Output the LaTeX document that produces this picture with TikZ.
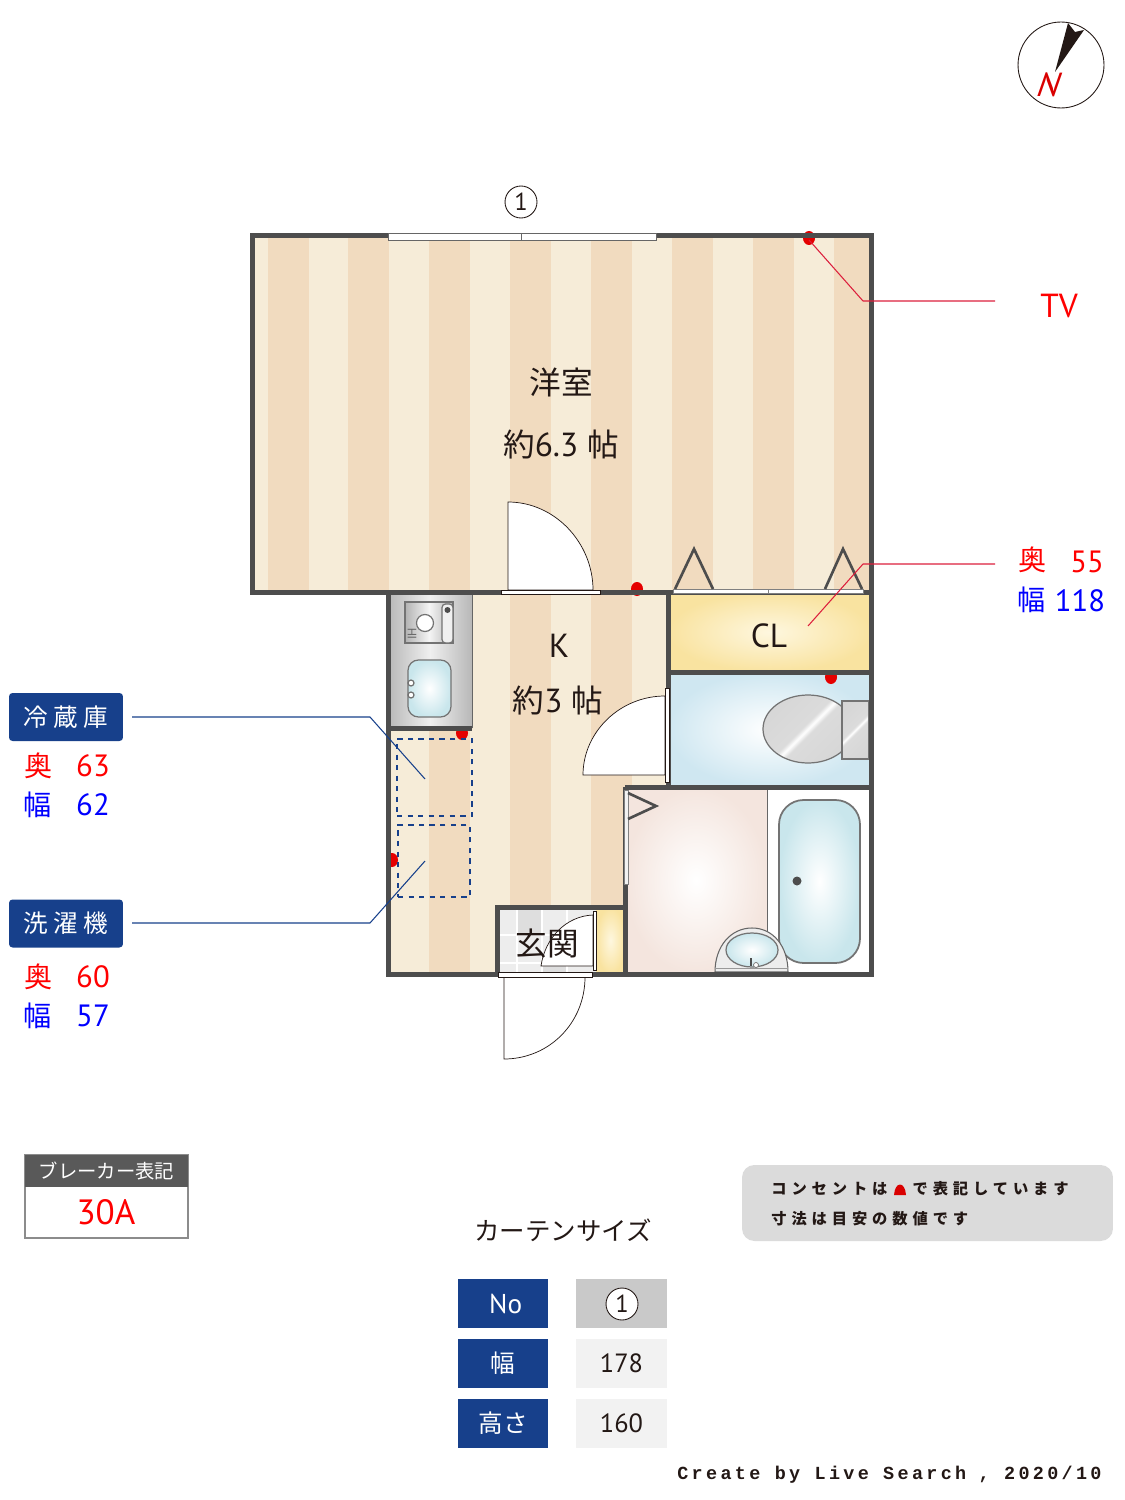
\documentclass[tikz,border=0pt]{standalone}
\usepackage{fontspec}
\setmainfont{PT Sans}
\newfontfamily\jp{Noto Sans CJK JP}
\newfontfamily\jpwide[LetterSpace=32]{Noto Sans CJK JP}
\newfontfamily\credit[LetterSpace=18]{Liberation Mono}
\usetikzlibrary{shapes.geometric}
\definecolor{wallgray}{HTML}{4D4D4D}
\definecolor{floorlight}{HTML}{F6ECD8}
\definecolor{floordark}{HTML}{F1DBBF}
\definecolor{navy}{HTML}{17408B}
\definecolor{inkblack}{HTML}{231815}
\definecolor{leaderred}{HTML}{DC1E3C}
\definecolor{closetgold}{HTML}{F9E3A0}
\definecolor{closetpale}{HTML}{FEF7DF}
\definecolor{skyblue}{HTML}{CFE7F1}
\definecolor{tubblue}{HTML}{C9E6EC}
\definecolor{bathpink}{HTML}{F4E5DE}
\pgfdeclarehorizontalshading{chrome}{100bp}{color(0bp)=(black!18);color(47bp)=(black!14);color(50bp)=(white);color(53bp)=(black!14);color(100bp)=(black!18)}
\tikzset{
    wall/.style={draw=wallgray, line width=0.1cm},
    doorleaf/.style={draw=inkblack, fill=white, line width=0.4pt},
    sill/.style={draw=inkblack, fill=white, line width=0.4pt},
    fold/.style={draw=wallgray, line width=1.5pt},
    socket/.style={fill=red!90!black},
    txt/.style={inner sep=0pt, text=inkblack},
    roomname/.style={txt, font=\fontsize{19}{21}\selectfont},
    redtxt/.style={inner sep=0pt, text=red, font=\fontsize{17.5}{20}\selectfont},
    bluetxt/.style={inner sep=0pt, text=blue, font=\fontsize{17.5}{20}\selectfont},
    tag/.style={rectangle, rounded corners=2pt, fill=navy, text=white, minimum width=2.28cm, minimum height=0.96cm, inner sep=0pt, font=\jp\fontsize{14}{16}\selectfont},
    headcell/.style={rectangle, fill=navy, text=white, minimum width=1.8cm, minimum height=0.98cm, inner sep=0pt, font=\fontsize{15.5}{18}\selectfont},
    valcell/.style={rectangle, fill=black!5, text=inkblack, minimum width=1.82cm, minimum height=0.98cm, inner sep=0pt, font=\fontsize{15}{18}\selectfont},
    numcircle/.style={circle, draw=inkblack, fill=white, minimum size=0.64cm, inner sep=0pt, line width=0.5pt, text=inkblack, font=\fontsize{14}{16}\selectfont},
    leaderblue/.style={draw=navy, line width=0.6pt},
    leaderpink/.style={draw=leaderred, line width=0.6pt},
    dashbox/.style={rectangle, draw=navy, dashed, line width=0.9pt, inner sep=0pt},
    metal/.style={draw=black!55, line width=0.7pt},
}
\begin{document}
\begin{tikzpicture}[x=0.02cm,y=-0.02cm]
\useasboundingbox (0,0) rectangle (1125,1500);

% flooring
\begin{scope}
\clip (252,236) -- (871,236) -- (871,592) -- (668,592) -- (668,787) -- (625,787) -- (625,974) -- (388,974) -- (388,592) -- (252,592) -- cycle;
\fill[floorlight] (252,236) rectangle (871,974);
\foreach \x in {268,348,429,510,591,672,753,834}
    \fill[floordark] (\x,236) rectangle ++(40.5,738);
\end{scope}

% rooms
\shade[inner color=closetpale, outer color=closetgold] (668,592) rectangle (871,672);
\shade[inner color=white, outer color=skyblue] (668,672) rectangle (871,787);
\shade[inner color=white, outer color=bathpink] (625,787) rectangle (767,974);
\fill[white] (767,787) rectangle (871,974);
\draw[black!60, line width=0.5pt] (767,787) -- (767,974);

% kitchen counter
\shade[left color=black!28, right color=black!28, middle color=black!6] (388,592) rectangle (472,728);
\draw[black!60, line width=0.5pt] (472,592) -- (472,728);
\shade[metal, left color=black!30, right color=black!30, middle color=black!4] (405,602) rectangle (453,643);
\draw[metal, fill=black!6, rounded corners=2pt] (442,604) rectangle (453,643);
\fill[wallgray] (447.5,610) circle (3);
\draw[metal, fill=white] (425,623) circle (8.5);
\node[txt, rotate=90, text=black!60, font=\fontsize{7}{8}\selectfont] (stovelabel) at (412,634) {IH};
\shade[metal, rounded corners=6pt, inner color=white, outer color=tubblue] (408,660) rectangle (451,717);
\draw[metal, fill=white] (411,683) circle (3) (411,695) circle (3);

% sockets
\foreach \p/\q in {809/238,637/589,831/677,462/733,392/860}
    \fill[socket] (\p,\q) ellipse (6 and 7);

% doors
\draw[doorleaf] (508,590) -- (508,502) .. controls (555,502) and (593,543) .. (593,590) -- cycle;
\draw[doorleaf] (665,775) -- (583,775) .. controls (583,732) and (620,696) .. (665,696) -- cycle;
\fill[white] (504,977) -- (504,1059) .. controls (549,1059) and (585,1023) .. (585,977) -- cycle;
\draw[draw=inkblack, line width=0.4pt] (504,977) -- (504,1059) .. controls (549,1059) and (585,1023) .. (585,977);

% entrance floor
\fill[black!7] (497,907) rectangle (596,974);
\fill[black!13] (517,910) rectangle (542,935) (567,963) rectangle (542,974);
\foreach \x in {517,542,567}
    \draw[white, line width=0.8pt] (\x,907) -- (\x,974);
\foreach \y in {935,963}
    \draw[white, line width=0.8pt] (497,\y) -- (596,\y);
\draw[doorleaf] (593,966) -- (541,966) .. controls (545,938) and (566,916) .. (593,915) -- cycle;
\shade[inner color=closetpale, outer color=closetgold] (596,907) rectangle (625,974);

% fixtures
\draw[metal, line width=1pt, rounded corners=14pt, inner color=white, outer color=tubblue, shade] (779,800) rectangle (860,963);
\fill[wallgray] (797,881) circle (4.5);
\draw[black!60, fill=black!7, line width=0.6pt] (715,972) .. controls (715,946) and (731,928) .. (752,928) .. controls (773,928) and (788,946) .. (788,972) -- cycle;
\draw[black!40, line width=0.5pt] (715,968) -- (788,968);
\shade[metal, inner color=white, outer color=tubblue] (752,950) ellipse (26 and 17);
\draw[wallgray, line width=1.4pt] (751,958) -- (751,966);
\draw[metal, fill=white, line width=0.4pt] (756,965) circle (2.5);
\draw[black!55, line width=0.7pt, shading=chrome, shading angle=135, shade] (808,729) ellipse (45 and 34);
\draw[black!55, line width=0.7pt, shading=chrome, shading angle=135, shade] (842,701) rectangle (869,759);

% walls
\draw[wall] (252,236) -- (871,236) -- (871,974) -- (388,974) -- (388,592) -- (252,592) -- cycle;
\draw[wall] (388,592) -- (871,592);
\draw[wall] (668,592) -- (668,787);
\draw[wall] (668,672) -- (871,672);
\draw[wall] (625,787) -- (871,787);
\draw[wall] (625,787) -- (625,974);
\draw[wall] (388,728) -- (472,728);
\draw[wall] (497,974) -- (497,907) -- (625,907);

% sills and windows
\draw[draw=black!60, fill=white, line width=0.5pt] (388,233) rectangle (656,240);
\draw[black!60, line width=0.5pt] (521,233) -- (521,240);
\draw[sill] (501,590) rectangle (600,594);
\draw[sill] (665,688) rectangle (669,782);
\draw[sill] (593,911) rectangle (596,970);
\draw[sill] (498,972) rectangle (592,977);
\draw[draw=black!50, fill=white, line width=0.4pt] (673,589) rectangle (863,593);
\draw[black!50, line width=0.4pt] (768,589) -- (768,593);
\draw[draw=black!50, fill=black!5, line width=0.4pt] (624,790) rectangle (628,884);

% folding doors
\draw[fold] (675,589) -- (694,549) -- (713,589);
\draw[fold] (825,589) -- (843,549) -- (862,589);
\draw[fold] (628,793) -- (656,806) -- (628,819);

% room names
\node[roomname, font=\jp\fontsize{18}{20}\selectfont] (western) at (561,382) {洋室};
\node[roomname] (westernsize) at (561,444) {{\jp\fontsize{18}{20}\selectfont 約}6.3 {\jp\fontsize{18}{20}\selectfont 帖}};
\node[roomname] (kitchen) at (559,646) {K};
\node[roomname] (kitchensize) at (558,700) {{\jp\fontsize{18}{20}\selectfont 約}3 {\jp\fontsize{18}{20}\selectfont 帖}};
\node[roomname] (closet) at (769,636) {CL};
\node[roomname, font=\jp\fontsize{18}{20}\selectfont] (entrance) at (547,943.5) {玄関};

% window number
\node[numcircle] (windowno) at (521,202) {1};

% compass
\node[circle, draw=inkblack, line width=0.5pt, minimum size=1.72cm, inner sep=0pt] (compass) at (1061,65) {};
\fill[inkblack] (1068,23) -- (1075,32) -- (1084,30) -- (1055,72) -- cycle;
\node[inner sep=0pt, text=red!85!black, xslant=0.35, font=\fontsize{19}{22}\selectfont] (north) at (1050,85) {N};

% fridge and washer
\node[dashbox, minimum width=1.5cm, minimum height=1.54cm] (fridgebox) at (434.5,777.5) {};
\node[dashbox, minimum width=1.44cm, minimum height=1.44cm] (washerbox) at (434,861) {};
\node[tag] (fridgetag) at (66,717) {冷 蔵 庫};
\node[tag] (washertag) at (66,923.5) {洗 濯 機};
\coordinate (fridgestart) at (132,717);
\coordinate (fridgebend) at (370,717);
\coordinate (fridgeend) at (425,779);
\coordinate (washerstart) at (132,923);
\coordinate (washerbend) at (370,923);
\coordinate (washerend) at (425,861);
\draw[leaderblue] (fridgestart) -- (fridgebend) -- (fridgeend);
\draw[leaderblue] (washerstart) -- (washerbend) -- (washerend);
\node[redtxt, font=\jp\fontsize{16}{20}\selectfont] (fridgedeep) at (39,766) {奥};
\node[redtxt] (fridgedeepval) at (93,766) {63};
\node[bluetxt, font=\jp\fontsize{16}{20}\selectfont] (fridgewide) at (38,805) {幅};
\node[bluetxt] (fridgewideval) at (93,805) {62};
\node[redtxt, font=\jp\fontsize{16}{20}\selectfont] (washerdeep) at (39,977) {奥};
\node[redtxt] (washerdeepval) at (93,977) {60};
\node[bluetxt, font=\jp\fontsize{16}{20}\selectfont] (washerwide) at (38,1016) {幅};
\node[bluetxt] (washerwideval) at (93,1016) {57};

% right hand labels
\node[redtxt, font=\fontsize{19}{22}\selectfont] (tvlabel) at (1059,306) {TV};
\coordinate (tvstart) at (995,301);
\coordinate (tvbend) at (863,301);
\coordinate (tvsocket) at (809,240);
\draw[leaderpink] (tvstart) -- (tvbend) -- (tvsocket);
\coordinate (closetstart) at (995,564);
\coordinate (closetbend) at (863,564);
\coordinate (closetend) at (808,626);
\draw[leaderpink] (closetstart) -- (closetbend) -- (closetend);
\node[redtxt, font=\jp\fontsize{16}{20}\selectfont] (closetdeep) at (1033,560) {奥};
\node[redtxt] (closetdeepval) at (1087,562) {55};
\node[bluetxt, font=\jp\fontsize{16}{20}\selectfont] (closetwide) at (1032,600) {幅};
\node[bluetxt] (closetwideval) at (1080,601) {118};

% breaker
\node[rectangle, draw=black!45, fill=white, line width=0.6pt, minimum width=3.26cm, minimum height=1.66cm, inner sep=0pt] (breakerbox) at (106.5,1196.5) {};
\node[rectangle, fill=black!65, text=white, minimum width=3.26cm, minimum height=0.64cm, inner sep=0pt, font=\jp\fontsize{11}{13}\selectfont] (breakerhead) at (106.5,1171) {ブレーカー表記};
\node[redtxt, font=\fontsize{20}{22}\selectfont] (breakerval) at (106,1212) {30A};

% curtain table
\node[txt, font=\jp\fontsize{14.5}{17}\selectfont] (curtaintitle) at (563,1230) {カーテンサイズ};
\node[headcell] (nohead) at (503,1303.5) {\hspace*{3pt}No};
\node[headcell, font=\jp\fontsize{14}{17}\selectfont] (widehead) at (503,1363.5) {幅};
\node[headcell, font=\jp\fontsize{14}{17}\selectfont] (highhead) at (503,1423.5) {高さ};
\node[valcell, fill=black!21] (noval) at (621.5,1303.5) {};
\node[numcircle] (nocircle) at (622,1304) {1};
\node[valcell] (wideval) at (621.5,1363.5) {178};
\node[valcell] (highval) at (621.5,1423.5) {160};

% note
\node[rectangle, rounded corners=7pt, fill=black!14, minimum width=7.42cm, minimum height=1.52cm, inner sep=0pt] (notebox) at (927.5,1203) {};
\node[txt, anchor=west, font=\jpwide\bfseries\fontsize{8.7}{10}\selectfont] (noteone) at (771,1189) {コンセントは　で表記しています};
\node[txt, anchor=west, font=\jpwide\bfseries\fontsize{8.7}{10}\selectfont] (notetwo) at (771,1219) {寸法は目安の数値です};
\fill[red!85!black] (894,1195) .. controls (895,1181) and (905,1181) .. (906,1195) -- cycle;

% credit
\node[txt, anchor=west, font=\credit\bfseries\fontsize{10.5}{12}\selectfont] (credit) at (677,1475) {Create by Live Search\hspace*{-0.04cm} , 2020/10};
\end{tikzpicture}
\end{document}
